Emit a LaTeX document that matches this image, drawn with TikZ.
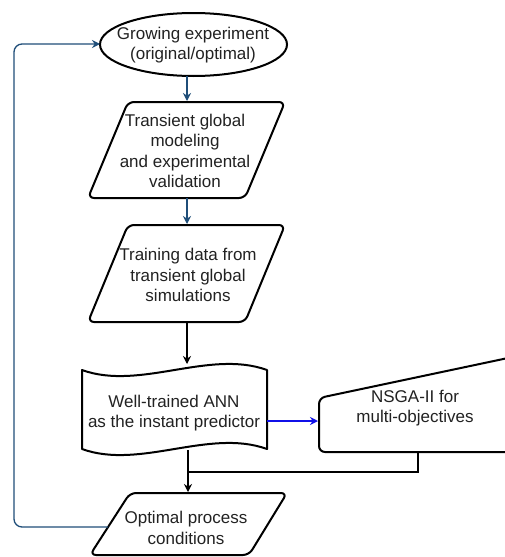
\documentclass[tikz,border=0pt]{standalone}
\usepackage{fontspec}
\setmainfont{Liberation Sans}
\usetikzlibrary{arrows.meta}
\definecolor{darkblue}{HTML}{1F4E79}
\definecolor{brightblue}{HTML}{1010E8}
\definecolor{txt}{HTML}{222222}
\tikzset{
  shapeline/.style={draw=black, line width=2pt, line join=round, rounded corners=6pt},
  lbl/.style={align=center, text=txt, font=\fontsize{17}{20.5}\selectfont, inner sep=0pt},
  bluearrow/.style={draw=darkblue, line width=1.3pt, -{Stealth[length=8pt,width=8pt]}},
  blackarrow/.style={draw=black, line width=1.3pt, -{Stealth[length=8pt,width=8pt]}},
  plainline/.style={draw=black, line width=1.3pt},
  nsgaarrow/.style={draw=brightblue, line width=1.5pt, -{Stealth[length=8pt,width=8pt]}}
}
\begin{document}
\begin{tikzpicture}[x=1pt,y=-1pt]
\useasboundingbox (0,0) rectangle (505,557);
\clip (0,0) rectangle (505,557);
\fill[white] (0,0) rectangle (505,557);

% ellipse
\draw[line width=2pt] (193.5,44.5) ellipse [x radius=93.5, y radius=31.5];
\node[lbl] (grow) at (193,45) {Growing experiment\\(original/optimal)};

% parallelogram 1
\draw[shapeline] (128,102) -- (285,102) -- (245,198) -- (88,198) -- cycle;
\node[lbl] (trans) at (185,151) {Transient global\\modeling\\and experimental\\validation};

% parallelogram 2
\draw[shapeline] (128,225) -- (285,225) -- (245,322) -- (88,322) -- cycle;
\node[lbl] (train) at (188,275) {Training data from\\transient global\\simulations};

% document / tape
\draw[line width=2pt, line join=round] (82,370)
  .. controls (140,391) and (209,349) .. (267,370)
  -- (267,449)
  .. controls (209,428) and (140,470) .. (82,449) -- cycle;
\node[lbl] (ann) at (174,413) {Well-trained ANN\\as the instant predictor};

% NSGA manual input shape
\draw[shapeline] (560,347) -- (319,398) -- (319,452) -- (560,452);
\node[lbl] (nsga) at (415,408) {NSGA-II for\\multi-objectives};

% parallelogram 3
\draw[shapeline] (130,493) -- (287,493) -- (249,555) -- (90,555) -- cycle;
\node[lbl] (opt) at (186,528) {Optimal process\\conditions};

% connection points
\coordinate (g-s) at (187,76);
\coordinate (t-n) at (187,101);
\coordinate (t-s) at (187,198);
\coordinate (tr-n) at (187,224);
\coordinate (tr-s) at (187,322);
\coordinate (a-n) at (187,364);
\coordinate (a-e) at (267,421);
\coordinate (n-w) at (318,421);
\coordinate (a-s) at (188,450);
\coordinate (o-n) at (188,492);
\coordinate (n-s) at (418,452);
\coordinate (join) at (188,472);
\coordinate (o-w) at (108,527);
\coordinate (g-w) at (100,44);

% connectors
\draw[bluearrow] (g-s) -- (t-n);
\draw[bluearrow] (t-s) -- (tr-n);
\draw[blackarrow] (tr-s) -- (a-n);
\draw[nsgaarrow] (a-e) -- (n-w);
\draw[blackarrow] (a-s) -- (o-n);
\draw[plainline] (n-s) |- (join);
\draw[bluearrow, rounded corners=8pt] (o-w) -| (14,44) -- (g-w);
\end{tikzpicture}
\end{document}
